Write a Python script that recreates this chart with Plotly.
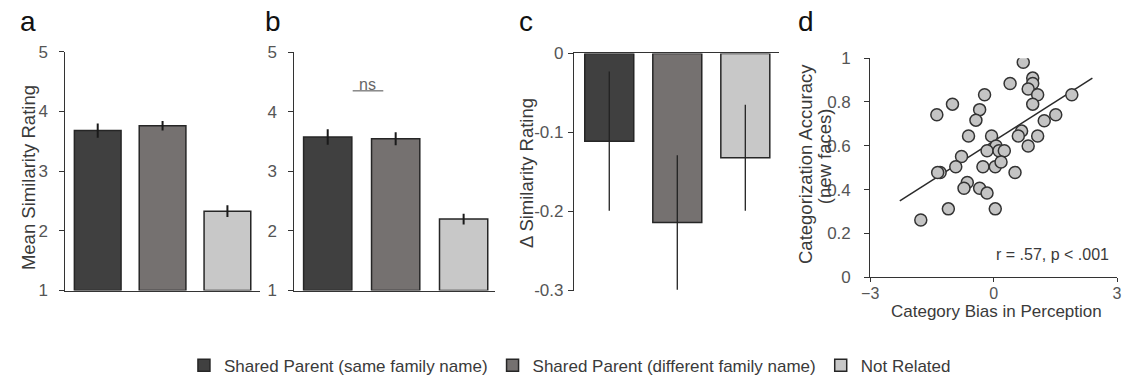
import plotly.graph_objects as go

W, H = 1128, 388

# ---- data ----
groups = ["Shared Parent (same family name)",
          "Shared Parent (different family name)",
          "Not Related"]
colors = ["#404040", "#757170", "#c8c8c8"]

a_mean = [3.68, 3.76, 2.33]
a_err = [0.12, 0.08, 0.10]

b_mean = [3.58, 3.55, 2.20]
b_err = [0.13, 0.11, 0.09]

c_mean = [-0.111, -0.214, -0.132]
c_err = [0.088, 0.085, 0.067]

d_bias = [0.72, 0.95, 0.95, 0.84, 1.07, 1.90, 0.40, -0.22, -1.00, 0.95,
          -1.38, -0.34, -0.43, 1.23, 1.51, -0.61, -0.05, 0.68, 0.60, 1.07,
          0.84, 0.06, -0.16, 0.13, 0.26, -0.78, -1.30, -1.36, -0.92, -0.26,
          0.04, 0.18, 0.52, -0.64, -0.72, -0.34, -0.16, -1.10, 0.04, -1.77]
d_acc = [0.981, 0.909, 0.884, 0.859, 0.833, 0.833, 0.884, 0.833, 0.790, 0.790,
         0.742, 0.765, 0.717, 0.714, 0.742, 0.645, 0.645, 0.667, 0.645, 0.645,
         0.599, 0.599, 0.577, 0.577, 0.577, 0.551, 0.478, 0.478, 0.504, 0.504,
         0.504, 0.526, 0.478, 0.432, 0.406, 0.406, 0.384, 0.312, 0.312, 0.261]
fit_x = [-2.28, 2.40]
fit_y = [0.348, 0.909]

RATING_FLOOR = 1  # bars in panels a and b rise from the bottom of the 1-5 scale


def px(x):
    return x / W


def py(y):
    return 1 - y / H


FONT = "Liberation Sans, Arial, sans-serif"
AX = "#333333"
TXT = "#555555"
LBL = "#3a3a3a"

fig = go.Figure()

cats = [0, 1, 2]
for i, g in enumerate(groups):
    fig.add_trace(go.Bar(
        x=[cats[i]], y=[a_mean[i] - RATING_FLOOR], base=RATING_FLOOR,
        error_y=dict(type="data", array=[a_err[i]], color="#1a1a1a",
                     thickness=2, width=0),
        marker=dict(color=colors[i], line=dict(color="#262626", width=1.5)),
        width=0.72, name=g, legendgroup=g, showlegend=True,
        xaxis="x", yaxis="y"))
for i, g in enumerate(groups):
    fig.add_trace(go.Bar(
        x=[cats[i]], y=[b_mean[i] - RATING_FLOOR], base=RATING_FLOOR,
        error_y=dict(type="data", array=[b_err[i]], color="#1a1a1a",
                     thickness=2, width=0),
        marker=dict(color=colors[i], line=dict(color="#262626", width=1.5)),
        width=0.71, name=g, legendgroup=g, showlegend=False,
        xaxis="x2", yaxis="y2"))
for i, g in enumerate(groups):
    fig.add_trace(go.Bar(
        x=[cats[i]], y=[c_mean[i]],
        error_y=dict(type="data", array=[c_err[i]], color="#222222",
                     thickness=1.3, width=0),
        marker=dict(color=colors[i], line=dict(color="#262626", width=1.5)),
        width=0.72, name=g, legendgroup=g, showlegend=False,
        xaxis="x3", yaxis="y3"))

fig.add_trace(go.Scatter(
    x=fit_x, y=fit_y, mode="lines",
    line=dict(color="#2a2a2a", width=1.5), showlegend=False,
    xaxis="x4", yaxis="y4"))
fig.add_trace(go.Scatter(
    x=d_bias, y=d_acc, mode="markers",
    marker=dict(size=12, color="#c4c4c4", line=dict(color="#333333", width=1.5)),
    showlegend=False, xaxis="x4", yaxis="y4"))


def yax(standoff, **kw):
    return dict(showline=True, linecolor=AX, linewidth=1, ticks="outside",
                ticklen=5, tickcolor=AX, showgrid=False, zeroline=False,
                tickfont=dict(size=17, color=TXT, family=FONT),
                ticklabelstandoff=standoff, **kw)


common_x = dict(showline=True, linecolor=AX, linewidth=1, showgrid=False,
                zeroline=False, showticklabels=False, ticks="", fixedrange=True)

fig.update_layout(
    width=W, height=H, margin=dict(l=0, r=0, t=0, b=0),
    paper_bgcolor="white", plot_bgcolor="white",
    font=dict(family=FONT, color=LBL),
    barmode="overlay",
    xaxis=dict(domain=[px(57), px(254)], range=[-0.5, 2.5], anchor="y", **common_x),
    yaxis=yax(8, domain=[py(296), py(45)], range=[1, 5], anchor="x",
              tickvals=[1, 2, 3, 4, 5]),
    xaxis2=dict(domain=[px(289), px(492)], range=[-0.49, 2.46], anchor="y2", **common_x),
    yaxis2=yax(8, domain=[py(296), py(45.7)], range=[1, 5], anchor="x2",
               tickvals=[1, 2, 3, 4, 5]),
    xaxis3=dict(domain=[px(572), px(780)], range=[-0.52, 2.5], anchor="y3",
                side="top", **common_x),
    yaxis3=yax(1, domain=[py(296), py(46.7)], range=[-0.3, 0], anchor="x3",
               tickvals=[0, -0.1, -0.2, -0.3],
               ticktext=["0", "-0.1", "-0.2", "-0.3"]),
    xaxis4=dict(domain=[px(872), px(1122)], range=[-3, 3], anchor="y4",
                showline=True, linecolor=AX, linewidth=1, showgrid=False,
                zeroline=False, ticks="outside", ticklen=4, tickcolor=AX,
                ticklabelstandoff=-2,
                tickvals=[-3, 0, 3], tickfont=dict(size=16, color=TXT, family=FONT)),
    yaxis4=yax(10, domain=[py(282), py(51.7)], range=[0, 1], anchor="x4",
               tickvals=[0, 0.2, 0.4, 0.6, 0.8, 1],
               ticktext=["0", "0.2", "0.4", "0.6", "0.8", "1"]),
    legend=dict(orientation="h", x=px(568), xanchor="center",
                y=py(375), yanchor="middle",
                font=dict(size=17, color=LBL, family=FONT),
                itemwidth=30, tracegroupgap=0, bgcolor="rgba(0,0,0,0)"),
    showlegend=True,
)

ann = []
for letter, xx in [("a", 9), ("b", 257), ("c", 514), ("d", 797)]:
    ann.append(dict(x=px(xx), y=py(24), xref="paper", yref="paper",
                    xanchor="left", yanchor="bottom", yshift=-7,
                    text=letter, showarrow=False,
                    font=dict(size=28, color="#111111", family=FONT)))

titles = [
    ("Mean Similarity Rating", 20, 177),
    ("Δ Similarity Rating", 524, 172),
    ("Categorization Accuracy", 806, 163),
    ("(new faces)", 826, 155),
]
for t, xx, yy in titles:
    ann.append(dict(x=px(xx), y=py(yy), xref="paper", yref="paper",
                    xanchor="center", yanchor="middle", text=t, textangle=-90,
                    showarrow=False,
                    font=dict(size=18.5, color=LBL, family=FONT)))
ann.append(dict(x=px(1000), y=py(318), xref="paper", yref="paper",
                xanchor="center", yanchor="middle",
                text="Category Bias in Perception", showarrow=False,
                font=dict(size=17, color=LBL, family=FONT)))
ann.append(dict(x=px(1116), y=py(258), xref="paper", yref="paper",
                xanchor="right", yanchor="middle",
                text="r = .57, p < .001", showarrow=False,
                font=dict(size=16, color=LBL, family=FONT)))
ann.append(dict(x=px(363), y=py(79), xref="paper", yref="paper",
                xanchor="center", yanchor="middle", text="ns", showarrow=False,
                font=dict(size=16, color="#666666", family=FONT)))
fig.update_layout(annotations=ann)

# bracket under the "ns" label between the first two bars of panel b
fig.add_shape(type="line", xref="paper", yref="paper",
              x0=px(348), x1=px(379), y0=py(86), y1=py(86),
              line=dict(color="#888888", width=1.5))

fig.write_html("out.html")
